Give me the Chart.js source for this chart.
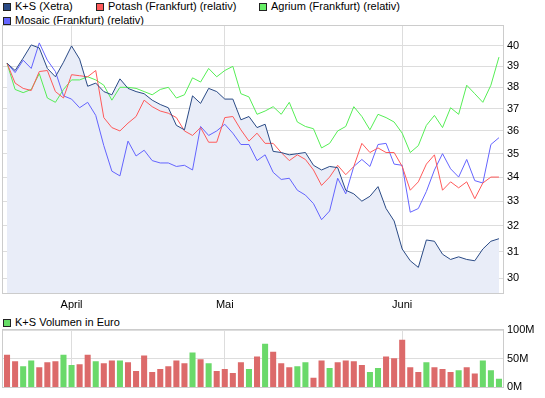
<!DOCTYPE html>
<html>
<head>
<meta charset="utf-8">
<script src="https://cdn.jsdelivr.net/npm/chart.js@4"></script>
<style>
  body { margin: 0; background: #fff; width: 545px; height: 398px; overflow: hidden; position: relative;
         font-family: Arial, "Liberation Sans", sans-serif; font-size: 11px; color: #000; }
  canvas { position: absolute; left: 0; }
  .lg { position: absolute; height: 13px; line-height: 13px; white-space: nowrap; }
  .lg i { display: inline-block; width: 6px; height: 6px; border: 1px solid #222; vertical-align: -1px; margin-right: 4px; }
</style>
</head>
<body>
<div class="lg" style="left:3px;top:0px"><i style="background:#2a4a85"></i>K+S (Xetra)</div>
<div class="lg" style="left:96px;top:0px"><i style="background:#ff5a5a"></i>Potash (Frankfurt) (relativ)</div>
<div class="lg" style="left:259px;top:0px"><i style="background:#66ee66"></i>Agrium (Frankfurt) (relativ)</div>
<div class="lg" style="left:3px;top:14px"><i style="background:#6666ff"></i>Mosaic (Frankfurt) (relativ)</div>
<canvas id="priceChart" width="545" height="312" style="top:0"></canvas>
<div class="lg" style="left:3px;top:316px"><i style="background:#66dd66"></i>K+S Volumen in Euro</div>
<canvas id="volChart" width="545" height="86" style="top:312px"></canvas>
<script>
// trading days 2012
const dates = [
  '21.03.','22.03.','23.03.','26.03.','27.03.','28.03.','29.03.','30.03.',
  '02.04.','03.04.','04.04.','05.04.','10.04.','11.04.','12.04.','13.04.','16.04.','17.04.','18.04.','19.04.',
  '20.04.','23.04.','24.04.','25.04.','26.04.','27.04.','30.04.',
  '02.05.','03.05.','04.05.','07.05.','08.05.','09.05.','10.05.','11.05.','14.05.','15.05.','16.05.','17.05.',
  '18.05.','21.05.','22.05.','23.05.','24.05.','25.05.','28.05.','29.05.','30.05.','31.05.',
  '01.06.','04.06.','05.06.','06.06.','07.06.','08.06.','11.06.','12.06.','13.06.','14.06.','15.06.','18.06.','19.06.'
]
const monthTickIndex = [8, 27, 49]
const monthTickLabels = ['April', 'Mai', 'Juni']
const priceTicks = [30, 31, 32, 33, 34, 35, 36, 37, 38, 39, 40]
const volumeTicks = [0, 50, 100]

const ksXetra = [
  39.15, 38.8, 39.4, 40.05, 39.9, 38.9, 38.5, 39.2, 40.0, 39.35,
  38.05, 38.2, 37.8, 37.65, 38.4, 37.95, 37.8, 37.7, 37.4, 37.2,
  37.05, 36.25, 36.05, 37.6, 37.25, 37.95, 37.8, 37.45, 37.45, 36.5,
  36.65, 36.15, 36.3, 35.1, 35.05, 34.95, 35.0, 35.05, 34.5, 34.3,
  34.45, 34.4, 33.45, 33.3, 33.0, 33.2, 33.6, 32.7, 32.2, 31.1,
  30.65, 30.4, 31.45, 31.4, 30.9, 30.7, 30.8, 30.7, 30.65, 31.1,
  31.4, 31.5
]
const potash = [
  39.15, 38.2, 37.95, 37.85, 38.75, 38.8, 37.8, 37.5, 38.6, 38.55,
  38.5, 38.8, 36.6, 36.15, 36.0, 36.35, 36.65, 37.4, 37.1, 36.9,
  36.8, 36.6, 36.0, 35.8, 36.15, 35.5, 35.5, 36.6, 36.65, 36.05,
  35.55, 35.9, 35.45, 35.45, 35.05, 34.7, 34.95, 34.75, 34.3, 33.65,
  34.0, 34.5, 34.1, 34.45, 35.45, 35.05, 35.25, 35.05, 35.05, 34.45,
  33.45, 33.8, 34.55, 34.95, 33.45, 33.8, 33.55, 33.8, 33.1, 33.75,
  34.0, 34.0
]
const agrium = [
  39.15, 37.9, 37.75, 37.9, 38.65, 37.5, 37.3, 37.9, 38.35, 38.35,
  38.5, 38.35, 38.1, 37.4, 38.0, 38.0, 37.95, 37.8, 37.65, 37.9,
  38.0, 37.5, 37.65, 38.45, 38.25, 38.9, 38.5, 38.8, 39.0, 37.7,
  37.55, 36.75, 36.9, 37.1, 36.75, 37.3, 36.4, 36.2, 36.1, 35.25,
  35.45, 36.0, 36.2, 37.1, 36.65, 36.05, 36.75, 36.6, 36.4, 35.9,
  35.05, 35.35, 36.25, 36.7, 36.15, 37.05, 36.75, 38.1, 37.7, 37.3,
  38.1, 39.45
]
const mosaic = [
  39.15, 38.7, 39.3, 38.9, 40.15, 39.3, 38.75, 37.6, 37.45, 37.05,
  37.3, 36.7, 35.35, 34.25, 34.05, 35.55, 34.9, 35.15, 34.7, 34.6,
  34.6, 34.45, 34.5, 34.3, 36.2, 35.8, 36.0, 36.3, 35.9, 35.4,
  35.4, 34.7, 34.95, 34.2, 33.9, 33.95, 33.45, 33.25, 32.9, 32.25,
  32.6, 33.95, 33.3, 34.45, 34.75, 34.45, 35.4, 35.45, 34.55, 34.5,
  32.55, 32.7, 33.4, 34.3, 35.0, 34.35, 34.0, 34.75, 33.85, 33.75,
  35.4, 35.7
]
// Mio. Euro
const volume = [
  57, 45.5, 37, 47, 35, 44, 45.5, 57, 39, 40.5,
  57, 45.5, 42, 47, 47, 44, 28.7, 55.6, 27, 32,
  37, 47, 42, 61, 49, 42, 28.7, 32, 25, 44,
  32, 54, 76, 62, 42, 35, 37, 44, 17, 47,
  34, 44, 47, 45.5, 39, 27, 34, 54, 51, 83,
  35, 27, 44, 35, 32, 27, 30, 35, 24, 47,
  30, 15
]
// 1 = day closed up (green bar)
const volumeUp = [
  0, 0, 1, 1, 0, 0, 0, 1, 1, 0, 0, 1, 0, 0, 1, 0, 0, 0, 0, 0, 0, 0,
  0, 1, 0, 1, 0, 0, 0, 0, 1, 0, 1, 0, 0, 0, 1, 1, 0, 0, 1, 0, 0, 0,
  0, 1, 1, 0, 0, 0, 0, 0, 1, 0, 0, 0, 1, 0, 0, 1, 1, 1
]

const font = { family: 'Arial, "Liberation Sans", sans-serif', size: 11 }
const gridColor = '#dddddd'

const boxBorder = {
  id: 'boxBorder',
  beforeDatasetsDraw (chart) {
    const { ctx, chartArea: a } = chart
    ctx.save()
    ctx.strokeStyle = '#cccccc'
    ctx.lineWidth = 1
    ctx.strokeRect(Math.round(a.left) - 0.5, Math.round(a.top) - 0.5,
      Math.round(a.right - a.left) + 1, Math.round(a.bottom - a.top) + 1)
    ctx.restore()
  }
}

function monthAxis (showLabels, height) {
  return {
    type: 'category',
    offset: true,
    afterBuildTicks: axis => { axis.ticks = monthTickIndex.map(v => ({ value: v })) },
    afterFit: axis => { axis.height = height },
    grid: { offset: false, color: gridColor, drawTicks: false },
    border: { display: false },
    ticks: {
      display: showLabels,
      autoSkip: false,
      maxRotation: 0,
      padding: 5,
      color: '#000',
      font: font,
      callback: v => monthTickLabels[monthTickIndex.indexOf(v)]
    }
  }
}

function line (label, data, color) {
  return { label: label, data: data, borderColor: color, borderWidth: 1, pointRadius: 0, tension: 0, fill: false }
}

const ks = line('K+S (Xetra)', ksXetra, '#2a4a85')
ks.fill = 'start'
ks.backgroundColor = '#e9edf8'

new Chart(document.getElementById('priceChart'), {
  type: 'line',
  data: {
    labels: dates,
    datasets: [
      ks,
      line('Potash (Frankfurt) (relativ)', potash, '#ff5a5a'),
      line('Agrium (Frankfurt) (relativ)', agrium, '#55ee55'),
      line('Mosaic (Frankfurt) (relativ)', mosaic, '#6464ff')
    ]
  },
  options: {
    responsive: false,
    animation: false,
    layout: { padding: { left: 3, top: 26, right: 0, bottom: 0 } },
    plugins: { legend: { display: false }, tooltip: { enabled: false }, filler: { drawTime: 'beforeDatasetsDraw' } },
    scales: {
      x: monthAxis(true, 19),
      y: {
        type: 'logarithmic',
        position: 'right',
        min: 29.45,
        max: 41.0,
        afterBuildTicks: axis => { axis.ticks = priceTicks.map(v => ({ value: v })) },
        afterFit: axis => { axis.width = 42 },
        grid: { color: gridColor, drawTicks: false },
        border: { display: false },
        ticks: { padding: 4, color: '#000', font: font, callback: v => String(v) }
      }
    }
  },
  plugins: [boxBorder]
})

new Chart(document.getElementById('volChart'), {
  type: 'bar',
  data: {
    labels: dates,
    datasets: [{
      label: 'K+S Volumen in Euro',
      data: volume,
      backgroundColor: volumeUp.map(u => u ? '#6ad96a' : '#dc6a6a'),
      barPercentage: 0.75,
      categoryPercentage: 1
    }]
  },
  options: {
    responsive: false,
    animation: false,
    layout: { padding: { left: 3, top: 18, right: 0, bottom: 9 } },
    plugins: { legend: { display: false }, tooltip: { enabled: false } },
    scales: {
      x: monthAxis(false, 0),
      y: {
        position: 'right',
        min: 0,
        max: 100,
        afterBuildTicks: axis => { axis.ticks = volumeTicks.map(v => ({ value: v })) },
        afterFit: axis => { axis.width = 42 },
        grid: { color: gridColor, drawTicks: false },
        border: { display: false },
        ticks: { padding: 4, color: '#000', font: font, callback: v => v + 'M' }
      }
    }
  },
  plugins: [boxBorder]
})
</script>
</body>
</html>
